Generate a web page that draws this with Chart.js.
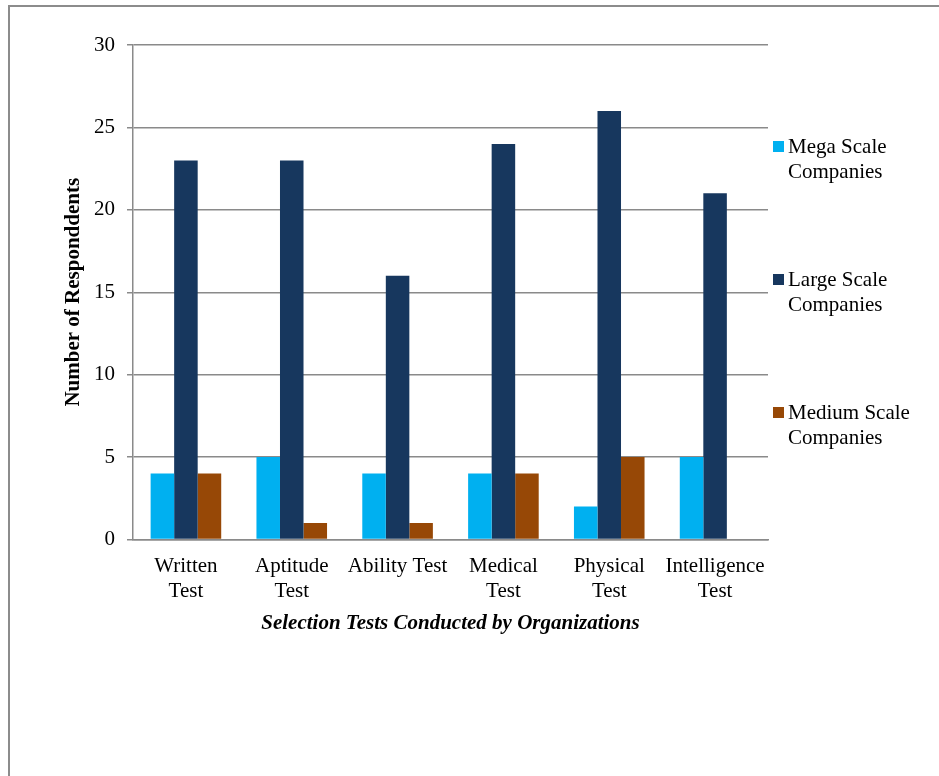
<!DOCTYPE html>
<html>
<head>
<meta charset="utf-8">
<script src="https://cdn.jsdelivr.net/npm/chart.js@4/dist/chart.umd.min.js"></script>
<style>
  html, body { margin: 0; padding: 0; background: #ffffff; }
  #wrap { width: 939px; height: 776px; position: relative; }
</style>
</head>
<body>
<div id="wrap"><canvas id="chart" width="939" height="776"></canvas></div>
<script>
// Selection tests and respondents per company size
const categories = [
  ["Written", "Test"],
  ["Aptitude", "Test"],
  "Ability Test",
  ["Medical", "Test"],
  ["Physical", "Test"],
  ["Intelligence", "Test"]
];
const seriesNames = ["Mega Scale Companies", "Large Scale Companies", "Medium Scale Companies"];
const megaScale = [4, 5, 4, 4, 2, 5];
const largeScale = [23, 23, 16, 24, 26, 21];
const mediumScale = [4, 1, 1, 4, 5, 0];
const yTicks = [0, 5, 10, 15, 20, 25, 30];

const seriesColors = ["#00B0F0", "#17375E", "#974806"];
const serif = "'Liberation Serif', 'Times New Roman', serif";
const gridGray = "#8a8a8a";

// Frame line along the top and left edges of the figure
const framePlugin = {
  id: "frame",
  beforeDraw(chart) {
    const ctx = chart.ctx;
    ctx.save();
    ctx.fillStyle = "#ffffff";
    ctx.fillRect(0, 0, chart.width, chart.height);
    ctx.fillStyle = "#8c8c8c";
    ctx.fillRect(8, 5, 2, chart.height - 5);
    ctx.fillRect(8, 5, chart.width - 8, 2);
    ctx.restore();
  }
};

// Legend drawn to the right of the plot with wrapped two-line labels
const sideLegend = {
  id: "sideLegend",
  afterDraw(chart, args, opts) {
    const ctx = chart.ctx;
    ctx.save();
    ctx.font = opts.fontSize + "px " + serif;
    ctx.textBaseline = "alphabetic";
    ctx.textAlign = "left";
    chart.data.datasets.forEach((ds, i) => {
      const top = opts.top + i * opts.spacing;
      ctx.fillStyle = ds.backgroundColor;
      ctx.fillRect(opts.x, top, opts.box, opts.box);
      // wrap the label into lines that fit the available width
      const words = ds.label.split(" ");
      const lines = [];
      let line = "";
      words.forEach(w => {
        const test = line ? line + " " + w : w;
        if (line && ctx.measureText(test).width > opts.maxWidth) {
          lines.push(line);
          line = w;
        } else {
          line = test;
        }
      });
      if (line) lines.push(line);
      ctx.fillStyle = "#000000";
      lines.forEach((l, k) => {
        ctx.fillText(l, opts.x + opts.box + opts.gap, top + opts.baseline + k * opts.lineHeight);
      });
    });
    ctx.restore();
  }
};

const datasets = [megaScale, largeScale, mediumScale].map((values, i) => ({
  label: seriesNames[i],
  data: values,
  backgroundColor: seriesColors[i],
  borderWidth: 0,
  categoryPercentage: 0.667,
  barPercentage: 1.0
}));

new Chart(document.getElementById("chart"), {
  type: "bar",
  data: { labels: categories, datasets: datasets },
  plugins: [framePlugin, sideLegend],
  options: {
    responsive: false,
    animation: false,
    layout: { padding: { left: 0, right: 171, top: 45, bottom: 139.5 } },
    plugins: {
      legend: { display: false },
      tooltip: { enabled: false },
      title: { display: false },
      sideLegend: {
        x: 773, top: 141, spacing: 133, box: 11, gap: 4,
        baseline: 12, lineHeight: 25, fontSize: 21, maxWidth: 135
      }
    },
    scales: {
      x: {
        grid: { display: false, drawTicks: false },
        border: { display: true, color: gridGray, width: 1.5 },
        ticks: {
          color: "#000000",
          padding: 14,
          maxRotation: 0,
          autoSkip: false,
          font: { family: serif, size: 21, lineHeight: 1.2 }
        },
        title: {
          display: true,
          text: "Selection Tests Conducted by Organizations",
          color: "#000000",
          padding: { top: 0, bottom: 0 },
          font: { family: serif, size: 21, weight: "bold", style: "italic", lineHeight: 1.2 }
        },
        afterFit(scale) { scale.height = 97; }
      },
      y: {
        min: 0,
        max: 30,
        afterBuildTicks(scale) { scale.ticks = yTicks.map(v => ({ value: v })); },
        grid: { color: gridGray, lineWidth: 1.5, tickLength: 6, drawTicks: true },
        border: { display: true, color: gridGray, width: 1.5 },
        ticks: {
          color: "#000000",
          padding: 12,
          font: { family: serif, size: 21 }
        },
        title: {
          display: true,
          text: "Number of Responddents",
          color: "#000000",
          padding: { top: 61, bottom: 0 },
          font: { family: serif, size: 21, weight: "bold", lineHeight: 1.2 }
        },
        afterFit(scale) { scale.width = 133; }
      }
    }
  }
});
</script>
</body>
</html>
